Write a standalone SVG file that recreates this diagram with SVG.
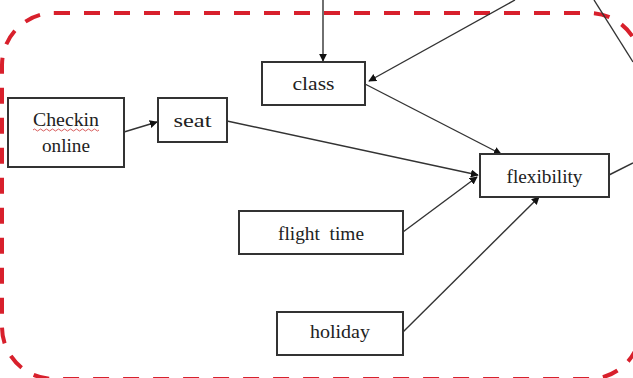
<svg xmlns="http://www.w3.org/2000/svg" width="633" height="378" viewBox="0 0 633 378">
<defs>
<style>
.box{fill:#fff;stroke:#333;stroke-width:2}
.lbl{font-family:"Liberation Serif","Times New Roman",serif;font-size:19px;fill:#222;text-anchor:middle;white-space:pre}
.edge{stroke:#333;stroke-width:1.4;fill:none}
.arr{marker-end:url(#ah)}
</style>
<marker id="ah" viewBox="0 0 10 10" refX="9" refY="5" markerWidth="8" markerHeight="8" markerUnits="userSpaceOnUse" orient="auto">
<path d="M0,0 L10,5 L0,10 z" fill="#111"/>
</marker>
</defs>
<rect width="633" height="378" fill="#fff"/>
<rect id="boundary" x="2" y="13" width="639" height="366" rx="52" ry="52" fill="none" stroke="#d8202c" stroke-width="4" stroke-dasharray="16 14"/>
<g id="connectors">
<line class="edge arr" x1="323" y1="0" x2="323" y2="61"/>
<line class="edge arr" x1="515" y1="0" x2="369" y2="81"/>
<line class="edge" x1="594" y1="0" x2="633" y2="62"/>
<line class="edge" x1="609" y1="175" x2="633" y2="163"/>
<line class="edge arr" x1="124" y1="132" x2="157" y2="122"/>
<line class="edge arr" x1="227" y1="121" x2="478" y2="175"/>
<line class="edge arr" x1="365" y1="84" x2="501" y2="154"/>
<line class="edge arr" x1="403" y1="232" x2="477" y2="177"/>
<line class="edge arr" x1="403" y1="332" x2="539" y2="197"/>
</g>
<g id="n-checkin">
<rect class="box" x="8" y="98" width="116" height="69"/>
<text class="lbl" x="66" y="126" textLength="66" lengthAdjust="spacingAndGlyphs">Checkin</text>
<path d="M33 130 q1.5 -2 3 0 t3 0 t3 0 t3 0 t3 0 t3 0 t3 0 t3 0 t3 0 t3 0 t3 0 t3 0 t3 0 t3 0 t3 0 t3 0 t3 0 t3 0 t3 0 t3 0 t3 0 t3 0" fill="none" stroke="#c33" stroke-width="0.8"/>
<text class="lbl" x="66" y="152" textLength="48" lengthAdjust="spacingAndGlyphs">online</text>
</g>
<g id="n-seat">
<rect class="box" x="158" y="98" width="69" height="44"/>
<text class="lbl" x="192.5" y="127" textLength="38" lengthAdjust="spacingAndGlyphs">seat</text>
</g>
<g id="n-class">
<rect class="box" x="262" y="62" width="103" height="43"/>
<text class="lbl" x="313.5" y="90" textLength="42" lengthAdjust="spacingAndGlyphs">class</text>
</g>
<g id="n-flexibility">
<rect class="box" x="480" y="154" width="129" height="43"/>
<text class="lbl" x="544.5" y="183" textLength="76" lengthAdjust="spacingAndGlyphs">flexibility</text>
</g>
<g id="n-flighttime">
<rect class="box" x="239" y="211" width="164" height="43"/>
<text class="lbl" x="321" y="240" textLength="86" lengthAdjust="spacingAndGlyphs" xml:space="preserve">flight  time</text>
</g>
<g id="n-holiday">
<rect class="box" x="277" y="312" width="126" height="43"/>
<text class="lbl" x="340" y="338" textLength="60" lengthAdjust="spacingAndGlyphs">holiday</text>
</g>
</svg>
